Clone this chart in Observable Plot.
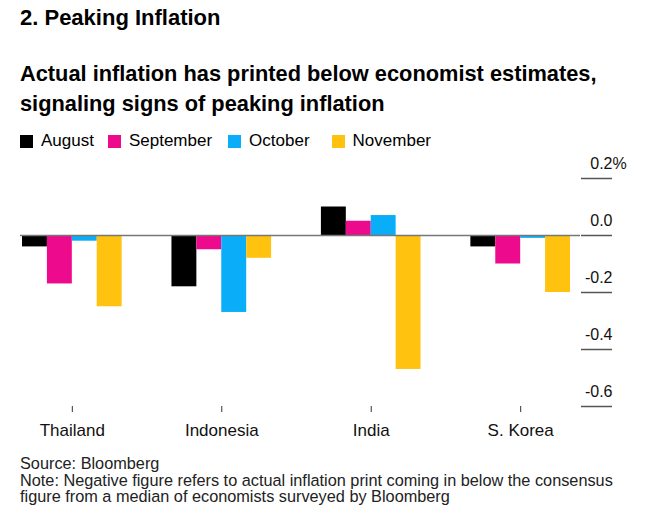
<!DOCTYPE html>
<html>
<head>
<meta charset="utf-8">
<script src="https://cdn.jsdelivr.net/npm/d3@7"></script>
<script src="https://cdn.jsdelivr.net/npm/@observablehq/plot@0.6"></script>
<style>
  html, body { margin: 0; padding: 0; background: #fff; }
  body { width: 652px; height: 513px; position: relative; overflow: hidden;
         font-family: "Liberation Sans", Arial, Helvetica, sans-serif; color: #000; }
  .abs { position: absolute; left: 20px; white-space: nowrap; }
  #title { top: 6px; font-size: 22px; line-height: 24px; font-weight: bold; }
  #subtitle { top: 59px; font-size: 21.8px; line-height: 30px; font-weight: bold; }
  #legend { top: 131px; font-size: 17px; line-height: 20px; display: flex; }
  #legend .item { display: flex; align-items: center; }
  #legend .sw { width: 13px; height: 13px; margin-right: 8px; }
  #chart { position: absolute; top: 150px; left: 0; }
  #footer { top: 455px; font-size: 16.3px; line-height: 16.6px; color: #222; }
</style>
</head>
<body>
<div id="title" class="abs">2. Peaking Inflation</div>
<div id="subtitle" class="abs">Actual inflation has printed below economist estimates,<br>signaling signs of peaking inflation</div>
<div id="legend" class="abs"></div>
<div id="chart"></div>
<div id="footer" class="abs">Source: Bloomberg<br>Note: Negative figure refers to actual inflation print coming in below the consensus<br>figure from a median of economists surveyed by Bloomberg</div>
<script>
const countries = ["Thailand", "Indonesia", "India", "S. Korea"];
const months = ["August", "September", "October", "November"];
const august = [-0.04, -0.18, 0.10, -0.04];
const september = [-0.17, -0.05, 0.05, -0.10];
const october = [-0.02, -0.27, 0.07, -0.01];
const november = [-0.25, -0.08, -0.47, -0.20];
const yTicks = [0.2, 0, -0.2, -0.4, -0.6];
const colors = ["#000000", "#EE0A8C", "#0AADF7", "#FFC20E"];

const series = [august, september, october, november];
const slotsPerGroup = months.length + 2; // 4 bars + 2-bar gap
const rows = [];
countries.forEach((c, i) => {
  months.forEach((m, j) => {
    rows.push({country: c, month: m, value: series[j][i], slot: i * slotsPerGroup + j});
  });
});
const groupCenters = countries.map((c, i) => i * slotsPerGroup + months.length / 2);
const totalSlots = countries.length * slotsPerGroup - 2;

// legend
const legendGaps = [14, 16, 22, 0];
const legend = document.getElementById("legend");
months.forEach((m, j) => {
  const it = document.createElement("div");
  it.className = "item";
  it.style.marginRight = legendGaps[j] + "px";
  it.innerHTML = `<span class="sw" style="background:${colors[j]}"></span><span>${m}</span>`;
  legend.appendChild(it);
});

const axisFont = 16;
const chart = Plot.plot({
  width: 652,
  height: 300,
  marginTop: 28,
  marginBottom: 44,
  marginLeft: 20,
  marginRight: 72,
  style: {fontFamily: '"Liberation Sans", Arial, sans-serif', background: "transparent"},
  x: {domain: [0, totalSlots], range: [22, 570], axis: null},
  y: {domain: [-0.6, 0.2], axis: null},
  color: {domain: months, range: colors},
  marks: [
    Plot.rectY(rows, {x1: "slot", x2: d => d.slot + 1, y: "value", fill: "month"}),
    Plot.ruleY([0], {stroke: "#777", strokeWidth: 1.5}),
    // tick lines only
    Plot.axisY(yTicks, {
      anchor: "right", tickSize: 31, tickPadding: 0, stroke: "#555", strokeWidth: 1.5,
      tickFormat: () => "", label: null
    }),
    // tick labels above the lines
    Plot.axisY(yTicks, {
      anchor: "right", tickSize: 0, tickPadding: 0, textAnchor: "end",
      dx: 32, dy: -15, fontSize: axisFont, fill: "#111",
      tickFormat: d => d.toFixed(1), label: null
    }),
    Plot.axisY([yTicks[0]], {
      anchor: "right", tickSize: 0, tickPadding: 0, textAnchor: "start",
      dx: 32, dy: -15, fontSize: axisFont, fill: "#111",
      tickFormat: () => "%", label: null
    }),
    Plot.axisX(groupCenters, {
      anchor: "bottom", tickSize: 6, tickPadding: 11, fontSize: 17, fill: "#111", stroke: "#333",
      tickFormat: d => countries[groupCenters.indexOf(d)], label: null
    })
  ]
});
document.getElementById("chart").appendChild(chart);
</script>
</body>
</html>
